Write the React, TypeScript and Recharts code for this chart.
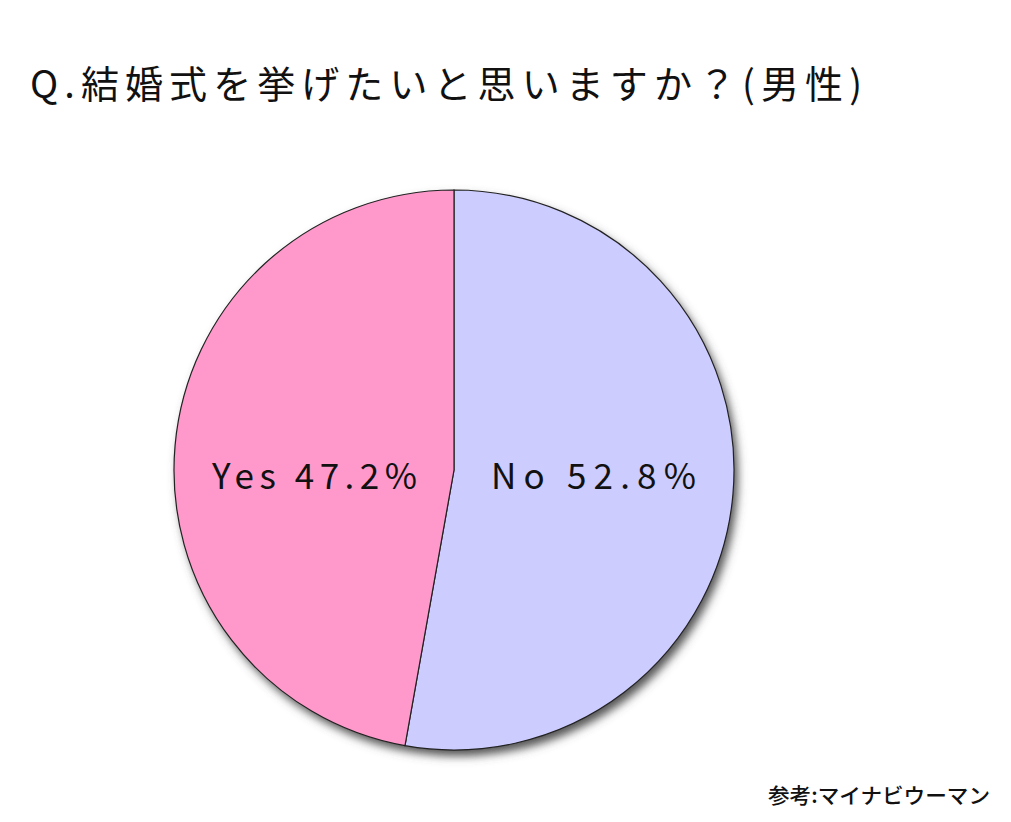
import React from "react";
import { PieChart, Pie, Cell } from "recharts";

const titleText = "Q.結婚式を挙げたいと思いますか？(男性)";
const sourceText = "参考:マイナビウーマン";
const categories = ["No", "Yes"];
const values = [52.8, 47.2];
const colors = ["#CCCCFF", "#FF99CC"];
const shadowData = [{ name: "shadow", value: 1 }];

const data = categories.map((c, i) => ({ name: c, value: values[i] }));

const RAD = Math.PI / 180;

const renderLabel = (props: any) => {
  const { cx, cy, midAngle, outerRadius, name, value } = props;
  const r = outerRadius * 0.5;
  const x = cx + r * Math.cos(-midAngle * RAD);
  return (
    <text
      x={x}
      y={cy + 9}
      textAnchor="middle"
      dominantBaseline="middle"
      fontFamily="'Noto Sans CJK JP', sans-serif"
      fontWeight={400}
      fontSize={35}
      fill="#111"
      textLength={205}
      lengthAdjust="spacing"
    >
      {`${name} ${value.toFixed(1)}%`}
    </text>
  );
};

export default function App() {
  return (
    <div style={{ position: "absolute", left: 0, top: 0, width: 1011, height: 822, background: "#fff" }}>
      <svg width={0} height={0} style={{ position: "absolute" }}>
        <defs>
          <filter id="pieShadowBlur" x="-10%" y="-10%" width="120%" height="120%">
            <feGaussianBlur stdDeviation="3" />
          </filter>
        </defs>
      </svg>
      <style>{`.pie-shadow { filter: url(#pieShadowBlur); }`}</style>
      <PieChart width={1011} height={822} margin={{ top: 0, right: 0, bottom: 0, left: 0 }}>
        <text
          x={30}
          y={98}
          fontFamily="'Noto Sans CJK JP', sans-serif"
          fontWeight={400}
          fontSize={38}
          fill="#111"
          textLength={832}
          lengthAdjust="spacing"
        >
          {titleText}
        </text>
        <Pie
          data={shadowData}
          dataKey="value"
          cx={458}
          cy={476}
          outerRadius={280}
          startAngle={90}
          endAngle={-270}
          fill="#555"
          stroke="none"
          className="pie-shadow"
          isAnimationActive={false}
          label={false}
          labelLine={false}
        />
        <Pie
          data={data}
          dataKey="value"
          nameKey="name"
          cx={454}
          cy={470}
          outerRadius={280}
          startAngle={90}
          endAngle={-270}
          stroke="#222"
          strokeWidth={1.2}
          isAnimationActive={false}
          label={renderLabel}
          labelLine={false}
        >
          {data.map((d, i) => (
            <Cell key={d.name} fill={colors[i]} />
          ))}
        </Pie>
        <text
          x={990}
          y={803}
          textAnchor="end"
          fontFamily="'Noto Sans CJK JP', sans-serif"
          fontWeight={500}
          fontSize={21}
          fill="#111"
          textLength={222}
          lengthAdjust="spacingAndGlyphs"
        >
          {sourceText}
        </text>
      </PieChart>
    </div>
  );
}
